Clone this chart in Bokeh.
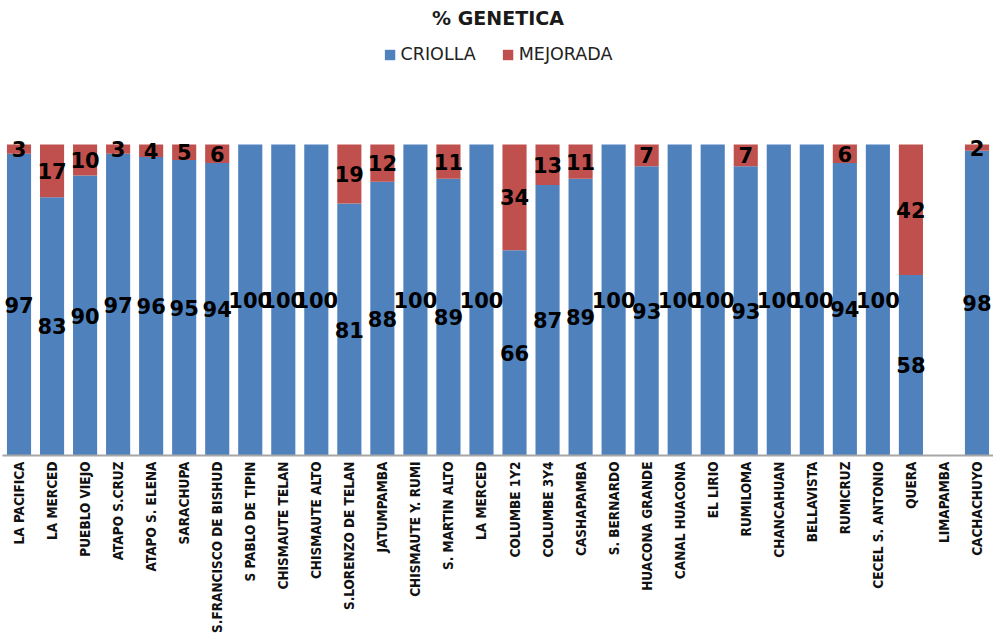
import math
from bokeh.plotting import figure
from bokeh.models import ColumnDataSource, Range1d, FixedTicker, Legend
from bokeh.core.properties import value
from bokeh.embed import file_html
from bokeh.resources import INLINE

communities = ["LA PACIFICA", "LA MERCED", "PUEBLO VIEJO", "ATAPO S.CRUZ", "ATAPO S. ELENA",
               "SARACHUPA", "S.FRANCISCO DE BISHUD", "S PABLO DE TIPIN", "CHISMAUTE TELAN",
               "CHISMAUTE ALTO", "S.LORENZO DE TELAN", "JATUMPAMBA", "CHISMAUTE Y. RUMI",
               "S. MARTIN ALTO", "LA MERCED", "COLUMBE 1Y2", "COLUMBE 3Y4", "CASHAPAMBA",
               "S. BERNARDO", "HUACONA GRANDE", "CANAL HUACONA", "EL LIRIO", "RUMILOMA",
               "CHANCAHUAN", "BELLAVISTA", "RUMICRUZ", "CECEL S. ANTONIO", "QUERA",
               "LIMAPAMBA", "CACHACHUYO"]
criolla = [97, 83, 90, 97, 96, 95, 94, 100, 100, 100, 81, 88, 100, 89, 100,
           66, 87, 89, 100, 93, 100, 100, 93, 100, 100, 94, 100, 58, 0, 98]
mejorada = [3, 17, 10, 3, 4, 5, 6, 0, 0, 0, 19, 12, 0, 11, 0,
            34, 13, 11, 0, 7, 0, 0, 7, 0, 0, 6, 0, 42, 0, 2]

BLUE = "#4F81BD"
RED = "#C0504D"

xs = list(range(len(communities)))
src = ColumnDataSource(dict(x=xs, CRIOLLA=criolla, MEJORADA=mejorada))

p = figure(width=993, height=635, output_backend="svg", toolbar_location=None,
           x_range=Range1d(-0.5, len(communities) - 0.5), y_range=Range1d(0, 134.7),
           min_border_left=2, min_border_right=0, min_border_top=0, min_border_bottom=0)

p.title.text = "% GENETICA"
p.title.align = "center"
p.title.vertical_align = "top"
p.title.text_font = "DejaVu Sans"
p.title.text_font_size = "19px"
p.title.text_font_style = "bold"
p.title.text_color = "#1a1a1a"
p.title.standoff = 12

r = p.vbar_stack(["CRIOLLA", "MEJORADA"], x="x", width=0.73, source=src,
                 color=[BLUE, RED], line_color=None)

# data labels
lx, ly, lt = [], [], []
for i, (c, m) in enumerate(zip(criolla, mejorada)):
    if c > 0:
        lx.append(i); ly.append(c / 2); lt.append(str(c))
    if m > 0:
        lx.append(i); ly.append(c + m / 2); lt.append(str(m))
lsrc = ColumnDataSource(dict(x=lx, y=ly, t=lt))
p.text(x="x", y="y", text="t", source=lsrc, text_align="center", text_baseline="middle",
       text_font=value("DejaVu Sans"), text_font_style="bold", text_font_size="21px",
       text_color="black")

legend = Legend(items=[("CRIOLLA", [r[0]]), ("MEJORADA", [r[1]])],
                location="top_center", orientation="horizontal",
                glyph_width=13, glyph_height=13, label_standoff=5, spacing=25,
                label_text_font="DejaVu Sans",
                label_text_font_size="17.5px", label_text_color="#222222",
                border_line_color=None, background_fill_alpha=0, padding=0, margin=8)
p.add_layout(legend, "center")

ax = p.xaxis[0]
ax.ticker = FixedTicker(ticks=xs)
ax.major_label_overrides = {i: n for i, n in enumerate(communities)}
ax.major_label_orientation = math.pi / 2
ax.major_label_text_font = "'DejaVu Sans Condensed', 'Liberation Sans'"
ax.major_label_text_font_size = "13.5px"
ax.major_label_text_font_style = "bold"
ax.major_label_text_color = "#111111"
ax.major_label_text_line_height = 1.0
ax.major_label_standoff = 6
ax.axis_label_standoff = 0
ax.major_tick_out = 0
ax.major_tick_in = 0
ax.minor_tick_out = 0
ax.minor_tick_in = 0
ax.major_tick_line_color = None
ax.minor_tick_line_color = None
ax.axis_line_color = "#A6A6A6"
ax.axis_line_width = 2

p.yaxis.visible = False
p.xgrid.visible = False
p.ygrid.visible = False
p.outline_line_color = None

open("out.html", "w").write(file_html(p, INLINE))
